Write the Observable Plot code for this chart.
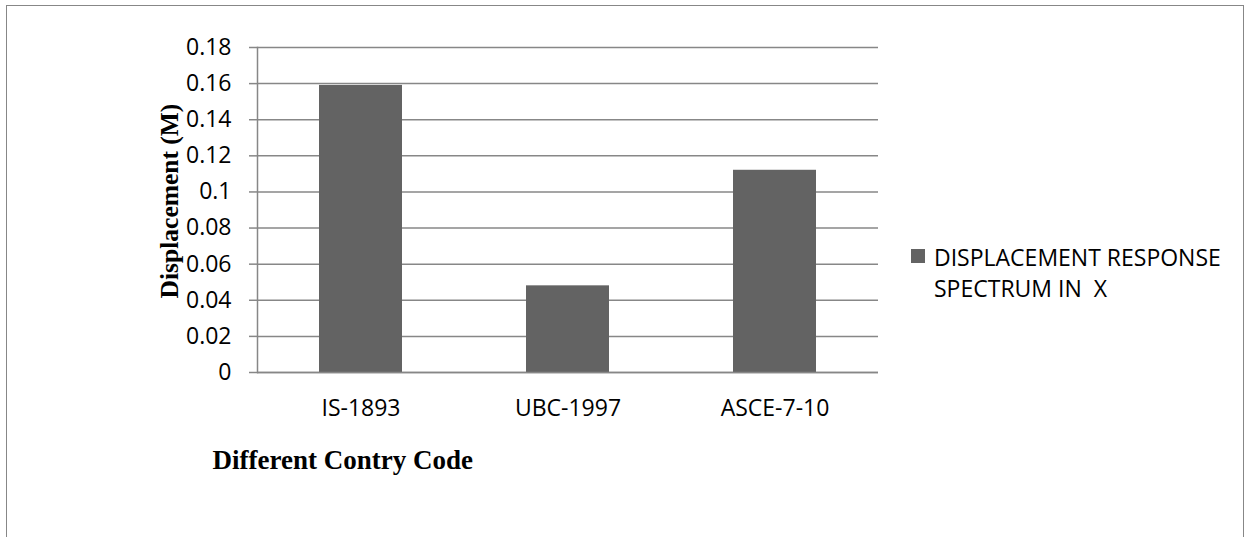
<!DOCTYPE html>
<html>
<head>
<meta charset="utf-8">
<script src="https://cdn.jsdelivr.net/npm/d3@7"></script>
<script src="https://cdn.jsdelivr.net/npm/@observablehq/plot@0.6"></script>
<style>
  html, body { margin: 0; padding: 0; background: #fff; }
  #wrap { position: relative; width: 1247px; height: 537px; overflow: hidden; background: #fff; }
  #wrap svg { position: absolute; left: 0; top: 0; }
  #border { position: absolute; left: 6px; top: 5px; width: 1238px; height: 600px; border: 1.5px solid #878787; box-sizing: border-box; pointer-events: none; }
  #legend { position: absolute; left: 911px; top: 242px; font-family: "Open Sans", sans-serif; font-size: 23px; line-height: 31px; color: #000; white-space: pre; }
  #legend .sw { position: absolute; left: 0; top: 7px; width: 14px; height: 14px; background: #636363; }
  #legend .txt { position: absolute; left: 23px; top: 0; }
</style>
</head>
<body>
<div id="wrap"></div>
<script>
const categories = ["IS-1893", "UBC-1997", "ASCE-7-10"];
const values = [0.159, 0.048, 0.112];
const yTicks = [0, 0.02, 0.04, 0.06, 0.08, 0.1, 0.12, 0.14, 0.16, 0.18];
const yTickLabels = ["0", "0.02", "0.04", "0.06", "0.08", "0.1", "0.12", "0.14", "0.16", "0.18"];
const seriesLines = ["DISPLACEMENT RESPONSE", "SPECTRUM IN  X"];
const yTitle = "Displacement (M)";
const xTitle = "Different Contry Code";

const data = categories.map((c, i) => ({code: c, value: values[i]}));
const grid = "#878787";

const chart = Plot.plot({
  width: 1247,
  height: 537,
  marginLeft: 257,
  marginRight: 369,
  marginTop: 47,
  marginBottom: 165,
  style: {fontFamily: "'Open Sans', sans-serif", fontSize: "23px", color: "#000", background: "none"},
  x: {type: "band", domain: categories, paddingInner: 0.6, paddingOuter: 0.3, axis: null},
  y: {domain: [0, 0.18], axis: null},
  marks: [
    Plot.ruleY(yTicks, {stroke: grid, strokeWidth: 1.5}),
    Plot.barY(data, {x: "code", y: "value", fill: "#636363"}),
    Plot.ruleY([0], {stroke: grid, strokeWidth: 1.5}),
    Plot.frame({anchor: "left", stroke: grid, strokeWidth: 1.5}),
    Plot.axisY({ticks: yTicks, tickFormat: d => yTickLabels[yTicks.indexOf(d)], tickSize: 8, tickPadding: 18, stroke: grid, strokeWidth: 1.5, fontSize: 23, label: null}),
    Plot.axisX({tickSize: 0, tickPadding: 27, fontSize: 23, label: null}),
    Plot.text([yTitle], {frameAnchor: "left", text: d => d, rotate: -90, dx: -88, dy: -9, fontFamily: "'Liberation Serif', serif", fontWeight: "bold", fontSize: 25.5, textAnchor: "middle", fill: "#000"}),
    Plot.text([xTitle], {frameAnchor: "bottom-left", text: d => d, dx: -45, dy: 96, fontFamily: "'Liberation Serif', serif", fontWeight: "bold", fontSize: 27, textAnchor: "start", fill: "#000"})
  ]
});

const wrap = document.getElementById("wrap");
wrap.appendChild(chart);

const border = document.createElement("div");
border.id = "border";
wrap.appendChild(border);

const legend = document.createElement("div");
legend.id = "legend";
const sw = document.createElement("div");
sw.className = "sw";
const txt = document.createElement("div");
txt.className = "txt";
txt.textContent = seriesLines.join("\n");
legend.appendChild(sw);
legend.appendChild(txt);
wrap.appendChild(legend);
</script>
</body>
</html>
